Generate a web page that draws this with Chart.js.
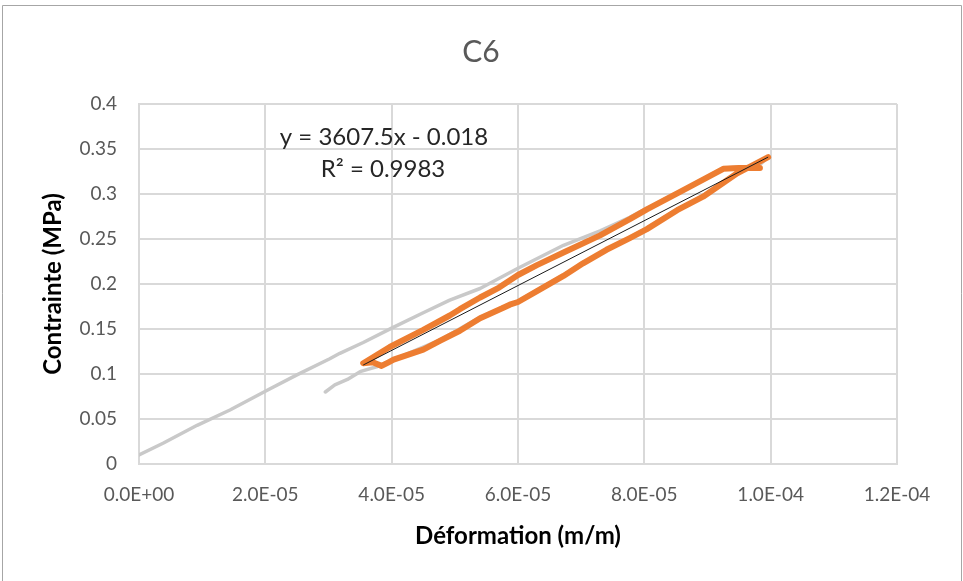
<!DOCTYPE html>
<html>
<head>
<meta charset="utf-8">
<script src="https://cdn.jsdelivr.net/npm/chart.js@4.4.1/dist/chart.umd.min.js"></script>
<style>
html,body{margin:0;padding:0;background:#fff;}
canvas{display:block;}
</style>
</head>
<body>
<canvas id="c" width="963" height="581"></canvas>
<script>
// ---- data (strain in m/m, stress in MPa) ----
const chartTitle = 'C6';
const xAxisTitle = 'Déformation (m/m)';
const yAxisTitle = 'Contrainte (MPa)';
const equationText = 'y = 3607.5x - 0.018';
const r2Text = 'R² = 0.9983';

const xTickLabels = ['0.0E+00','2.0E-05','4.0E-05','6.0E-05','8.0E-05','1.0E-04','1.2E-04'];
const yTickLabels = ['0','0.05','0.1','0.15','0.2','0.25','0.3','0.35','0.4'];

// full test record (grey): loading path then unloading path
const greyX = [0, 0.38e-5, 0.92e-5, 1.44e-5, 2.03e-5, 2.5e-5, 3.02e-5, 3.18e-5, 3.55e-5, 4.0e-5, 4.5e-5, 4.92e-5, 5.4e-5, 6.0e-5, 6.72e-5, 7.3e-5, 7.77e-5, 8.04e-5, 8.6e-5, 9.25e-5, 9.8e-5, 9.96e-5,
               9.47e-5, 8.93e-5, 8.52e-5, 8.04e-5, 7.77e-5, 7.03e-5, 6.72e-5, 6.0e-5, 5.4e-5, 4.77e-5, 4.03e-5, 3.76e-5, 3.5e-5, 3.3e-5, 3.1e-5, 2.95e-5];
const greyY = [0.010, 0.023, 0.043, 0.060, 0.082, 0.099, 0.117, 0.123, 0.135, 0.151, 0.168, 0.182, 0.195, 0.2175, 0.243, 0.259, 0.274, 0.284, 0.304, 0.329, 0.331, 0.341,
               0.323, 0.298, 0.283, 0.262, 0.252, 0.224, 0.210, 0.181, 0.163, 0.138, 0.116, 0.108, 0.1026, 0.094, 0.088, 0.080];

// cycle used for the fit (orange)
const cycleX = [9.83e-5, 9.5e-5, 9.25e-5, 8.61e-5, 8.04e-5, 7.77e-5, 7.3e-5, 6.72e-5, 6.3e-5, 6.0e-5, 5.7e-5, 5.4e-5, 5.08e-5, 4.92e-5, 4.5e-5, 3.97e-5, 3.55e-5,
                3.7e-5, 3.84e-5, 3.95e-5, 4.03e-5, 4.5e-5, 4.77e-5, 5.08e-5, 5.4e-5, 5.75e-5, 5.87e-5, 6.0e-5, 6.3e-5, 6.72e-5, 7.03e-5, 7.4e-5, 7.77e-5, 8.04e-5, 8.52e-5, 8.93e-5, 9.47e-5, 9.96e-5];
const cycleY = [0.329, 0.329, 0.328, 0.304, 0.283, 0.272, 0.254, 0.235, 0.221, 0.210, 0.196, 0.185, 0.172, 0.165, 0.149, 0.130, 0.112,
                0.113, 0.109, 0.113, 0.116, 0.127, 0.137, 0.148, 0.162, 0.173, 0.177, 0.180, 0.192, 0.209, 0.223, 0.238, 0.251, 0.261, 0.282, 0.297, 0.323, 0.341];

// linear trendline end points
const trendX = [3.55e-5, 9.96e-5];
const trendY = [0.110, 0.341];

const toPts = (xs, ys) => xs.map((x, i) => ({x: x, y: ys[i]}));

const textPlugin = {
  id: 'texts',
  beforeDraw(chart) {
    const ctx = chart.ctx;
    ctx.save();
    ctx.fillStyle = '#ffffff';
    ctx.fillRect(0, 0, chart.width, chart.height);
    ctx.strokeStyle = '#a6a6a6';
    ctx.lineWidth = 1;
    ctx.beginPath();
    ctx.moveTo(2.5, chart.height);
    ctx.lineTo(2.5, 5.5);
    ctx.lineTo(961.5, 5.5);
    ctx.lineTo(961.5, chart.height);
    ctx.stroke();
    ctx.restore();
  },
  afterDraw(chart) {
    const ctx = chart.ctx;
    const a = chart.chartArea;
    ctx.save();
    ctx.textAlign = 'center';
    ctx.textBaseline = 'middle';
    // title
    ctx.fillStyle = '#595959';
    ctx.font = '30px Lato';
    ctx.fillText(chartTitle, 481, 52);
    // x axis title
    ctx.fillStyle = '#000000';
    ctx.font = 'bold 24px Lato';
    ctx.fillText(xAxisTitle, (a.left + a.right) / 2, 536);
    // y axis title
    ctx.save();
    ctx.translate(53, (a.top + a.bottom) / 2);
    ctx.rotate(-Math.PI / 2);
    ctx.fillText(yAxisTitle, 0, 0);
    ctx.restore();
    // trendline label
    ctx.fillStyle = '#262626';
    ctx.font = '24px Lato';
    ctx.fillText(equationText, 384, 137);
    ctx.fillText(r2Text, 383, 169);
    ctx.restore();
  }
};

new Chart(document.getElementById('c'), {
  type: 'scatter',
  data: {
    datasets: [
      {
        label: 'trend',
        data: toPts(trendX, trendY),
        showLine: true,
        borderColor: '#1a1a1a',
        borderWidth: 1,
        pointRadius: 0,
        order: 1
      },
      {
        label: 'cycle',
        data: toPts(cycleX, cycleY),
        showLine: true,
        borderColor: '#ED7D31',
        borderWidth: 6,
        borderCapStyle: 'round',
        borderJoinStyle: 'round',
        tension: 0,
        pointRadius: 0,
        order: 2
      },
      {
        label: 'all',
        data: toPts(greyX, greyY),
        showLine: true,
        borderColor: '#c9c9c9',
        borderWidth: 3.5,
        borderJoinStyle: 'round',
        borderCapStyle: 'round',
        tension: 0,
        pointRadius: 0,
        order: 3
      }
    ]
  },
  options: {
    responsive: false,
    animation: false,
    devicePixelRatio: 1,
    layout: { padding: { top: 104, right: 66, bottom: 0, left: 0 } },
    plugins: {
      legend: { display: false },
      tooltip: { enabled: false },
      title: { display: false }
    },
    scales: {
      x: {
        type: 'linear',
        min: 0,
        max: 1.2e-4,
        afterFit(s) { s.height = 117; },
        afterBuildTicks(s) { s.ticks = xTickLabels.map((_, i) => ({value: i * 2e-5})); },
        ticks: {
          color: '#595959',
          font: { family: 'Lato', size: 19 },
          padding: 19,
          maxRotation: 0,
          autoSkip: false,
          callback: (v, i) => xTickLabels[i]
        },
        grid: { color: '#d9d9d9', lineWidth: 2, drawTicks: false },
        border: { color: '#d9d9d9', width: 2 }
      },
      y: {
        type: 'linear',
        min: 0,
        max: 0.4,
        afterFit(s) { s.width = 139; },
        afterBuildTicks(s) { s.ticks = yTickLabels.map((_, i) => ({value: i * 0.05})); },
        ticks: {
          color: '#595959',
          font: { family: 'Lato', size: 19 },
          padding: 22,
          autoSkip: false,
          callback: (v, i) => yTickLabels[i]
        },
        grid: { color: '#d9d9d9', lineWidth: 2, drawTicks: false },
        border: { color: '#d9d9d9', width: 2 }
      }
    }
  },
  plugins: [textPlugin]
});
</script>
</body>
</html>
